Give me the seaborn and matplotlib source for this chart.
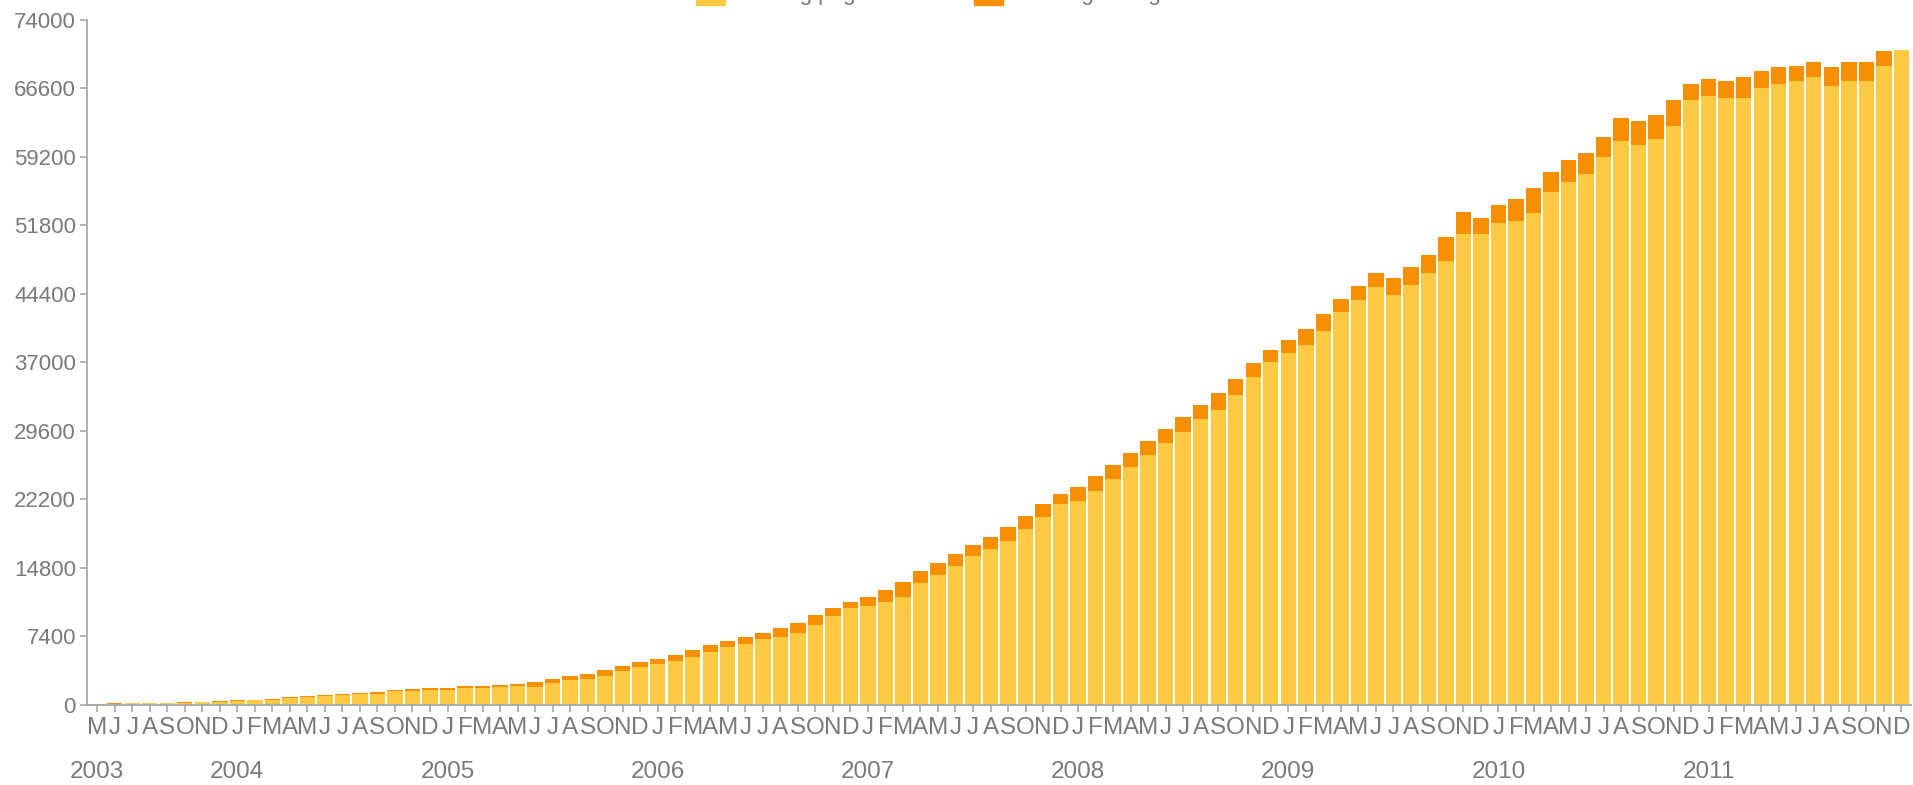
import numpy as np
import pandas as pd
import seaborn as sns
import matplotlib
matplotlib.use("Agg")
import matplotlib.pyplot as plt
from matplotlib.patches import Patch
import matplotlib.transforms as mtransforms

# monthly values, May 2003 .. Dec 2011
start_year = 2003
start_month = 5
base_counts = [
    50, 160, 170, 200, 225, 260, 320, 360,
    480, 520, 580, 740, 840, 970, 1070, 1170, 1230, 1460, 1520, 1650,
    1640, 1850, 1880, 1970, 2070, 1905, 2340, 2700, 2840, 3130, 3630, 4140,
    4390, 4750, 5180, 5755, 6220, 6620, 7085, 7340, 7805, 8600, 9620, 10500,
    10680, 11150, 11690, 13200, 13990, 15030, 16080, 16880, 17700, 18960, 20250, 21650,
    22010, 23090, 24350, 25650, 26940, 28240, 29490, 30830, 31830, 33420, 35430, 37050,
    38050, 38840, 40390, 42440, 43770, 45070, 44310, 45320, 46650, 47940, 50820, 50890,
    52040, 52260, 53160, 55350, 56500, 57270, 59160, 60920, 60420, 61140, 62470, 65280,
    65750, 65530, 65570, 66650, 67080, 67360, 67800, 66820, 67360, 67360, 68950, 70750,
]
extra_counts = [
    10, 20, 20, 20, 25, 30, 40, 40,
    60, 60, 70, 90, 100, 110, 120, 130, 140, 160, 170, 180,
    180, 200, 210, 220, 230, 545, 500, 430, 540, 680, 580, 540,
    570, 680, 755, 685, 650, 680, 720, 930, 1045, 1075, 850, 670,
    1010, 1260, 1580, 1290, 1300, 1260, 1220, 1280, 1540, 1490, 1440, 1120,
    1550, 1580, 1550, 1580, 1580, 1540, 1550, 1540, 1800, 1810, 1540, 1250,
    1330, 1800, 1800, 1440, 1480, 1610, 1800, 1980, 1910, 2590, 2410, 1730,
    1980, 2390, 2700, 2200, 2310, 2330, 2160, 2450, 2590, 2590, 2810, 1800,
    1870, 1830, 2230, 1790, 1790, 1660, 1580, 2050, 2020, 2020, 1620, 0,
]
month_letters = ["J", "F", "M", "A", "M", "J", "J", "A", "S", "O", "N", "D"]
y_ticks = [0, 7400, 14800, 22200, 29600, 37000, 44400, 51800, 59200, 66600, 74000]
legend_labels = ["Existing pages", "Pending changes"]

yellow = "#FFC944"
orange = "#F78F00"
grey = "#7a7a7a"

n = len(base_counts)
df = pd.DataFrame({"idx": range(n), "base": base_counts, "extra": extra_counts})
df["total"] = df["base"] + df["extra"]
df["month"] = [(start_month - 1 + k) % 12 for k in range(n)]
df["year"] = [start_year + (start_month - 1 + k) // 12 for k in range(n)]

sns.set_style("white")
plt.rcParams["font.family"] = ["Liberation Sans", "DejaVu Sans"]

fig = plt.figure(figsize=(19.13, 7.85), dpi=100)
ax = fig.add_axes([87 / 1913, 80 / 785, 1824 / 1913, 685.5 / 785])

# orange total behind, yellow base in front
sns.barplot(data=df, x="idx", y="total", color=orange, saturation=1,
            width=0.88, linewidth=0, ax=ax)
sns.barplot(data=df, x="idx", y="base", color=yellow, saturation=1,
            width=0.88, linewidth=0, ax=ax)

ax.set_xlim(-0.582, 103.55)
ax.set_ylim(0, 74000)
ax.set_xlabel("")
ax.set_ylabel("")

ax.set_yticks(y_ticks)
ax.set_yticklabels([str(v) for v in y_ticks])
ax.set_xticks(df["idx"])
ax.set_xticklabels([month_letters[m] for m in df["month"]])

for s in ["top", "right"]:
    ax.spines[s].set_visible(False)
for s in ["left", "bottom"]:
    ax.spines[s].set_color("#a8a8a8")
    ax.spines[s].set_linewidth(1.3)
ax.tick_params(axis="both", colors="#a8a8a8", labelcolor=grey,
               length=5, width=1.2)
ax.tick_params(axis="y", pad=3, left=True, labelsize=16)
ax.tick_params(axis="x", pad=4, bottom=True, labelsize=17.5)

# year labels under the first month of each year
trans = mtransforms.blended_transform_factory(ax.transData, ax.transAxes)
firsts = df.groupby("year")["idx"].min()
for yr, pos in firsts.items():
    ax.text(pos, -0.098, str(yr), transform=trans, ha="center", va="center",
            fontsize=17.5, color=grey)

# legend, mostly cut off at the top edge
fig.legend(handles=[Patch(color=yellow)], labels=[legend_labels[0]],
           loc="lower left", bbox_to_anchor=(696 / 1913, 780 / 785),
           frameon=False, borderpad=0, borderaxespad=0, handlelength=1.3,
           handleheight=1.3, handletextpad=0.4, fontsize=16, labelcolor=grey)
fig.legend(handles=[Patch(color=orange)], labels=[legend_labels[1]],
           loc="lower left", bbox_to_anchor=(974 / 1913, 780 / 785),
           frameon=False, borderpad=0, borderaxespad=0, handlelength=1.3,
           handleheight=1.3, handletextpad=0.4, fontsize=16, labelcolor=grey)

fig.savefig("out.png", dpi=100)
